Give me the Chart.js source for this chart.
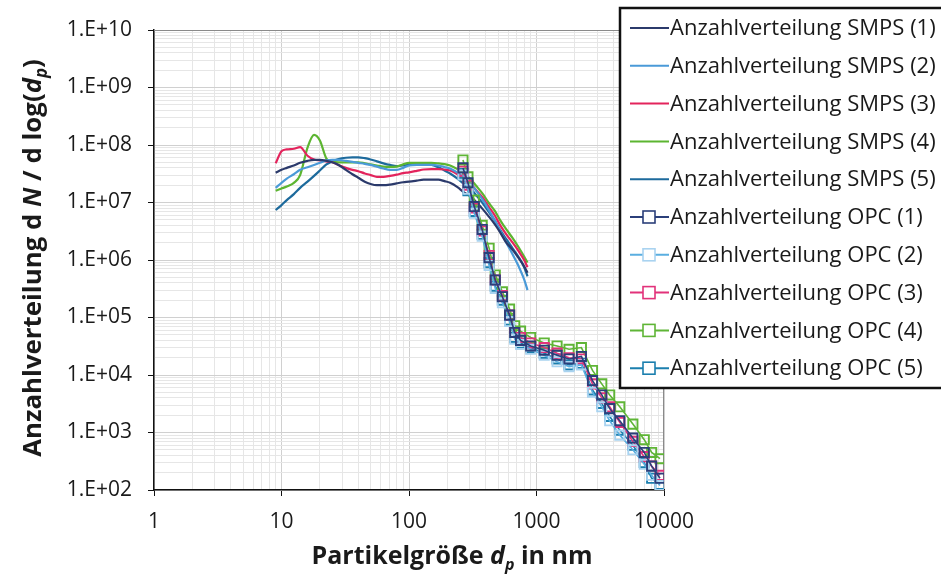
<!DOCTYPE html>
<html>
<head>
<meta charset="utf-8">
<script src="https://cdn.jsdelivr.net/npm/chart.js@4/dist/chart.umd.min.js"></script>
<style>
  html, body { margin: 0; padding: 0; background: #fff; }
  #wrap { position: relative; width: 941px; height: 576px; }
</style>
</head>
<body>
<div id="wrap"><canvas id="psd" width="941" height="576"></canvas></div>
<script>
// particle diameters (nm)
const smpsSize = [9, 10, 11, 12.5, 14, 16, 18, 20, 22.5, 25, 28, 32, 36, 40, 45, 50, 56, 63, 71, 80,
  90, 100, 115, 130, 150, 170, 190, 210, 240, 270, 300, 340, 380, 420, 470, 520, 580, 650, 720, 800, 850];
const opcSize = [265, 290, 325, 375, 425, 475, 540, 615, 675, 750, 900, 1150, 1450, 1800, 2250,
  2750, 3250, 3750, 4500, 5700, 7000, 8000, 9300];

// dN/dlog(dp), SMPS
const smps1 = [3.3e7, 3.7e7, 4.0e7, 4.4e7, 4.9e7, 5.3e7, 5.5e7, 5.5e7, 5.3e7, 5.0e7, 4.5e7, 3.7e7, 3.1e7, 2.7e7, 2.3e7, 2.1e7, 2.0e7, 2.0e7, 2.05e7, 2.15e7,
  2.25e7, 2.3e7, 2.4e7, 2.5e7, 2.5e7, 2.5e7, 2.35e7, 2.2e7, 1.85e7, 1.5e7, 1.3e7, 1.0e7, 7.6e6, 5.8e6, 4.2e6, 3.0e6, 2.0e6, 1.5e6, 1.1e6, 7.8e5, 6.0e5];
const smps2 = [1.8e7, 2.2e7, 2.6e7, 3.1e7, 3.7e7, 4.1e7, 4.5e7, 4.9e7, 5.4e7, 5.5e7, 5.5e7, 5.3e7, 5.1e7, 4.9e7, 4.7e7, 4.5e7, 4.2e7, 3.9e7, 3.7e7, 3.7e7,
  4.0e7, 4.4e7, 4.5e7, 4.5e7, 4.5e7, 4.4e7, 4.15e7, 3.9e7, 3.3e7, 2.7e7, 2.2e7, 1.55e7, 1.1e7, 7.6e6, 4.9e6, 3.2e6, 2.0e6, 1.25e6, 8.0e5, 4.6e5, 3.0e5];
const smps3 = [4.8e7, 7.8e7, 8.4e7, 8.6e7, 9.2e7, 6.5e7, 5.6e7, 5.4e7, 5.2e7, 5.0e7, 4.5e7, 4.0e7, 3.7e7, 3.5e7, 3.2e7, 3.0e7, 2.8e7, 2.8e7, 2.9e7, 3.05e7,
  3.25e7, 3.35e7, 3.55e7, 3.75e7, 3.8e7, 3.8e7, 3.75e7, 3.6e7, 3.1e7, 2.6e7, 2.2e7, 1.6e7, 1.2e7, 8.6e6, 6.0e6, 4.0e6, 2.8e6, 2.0e6, 1.45e6, 1.0e6, 7.5e5];
const smps4 = [1.6e7, 1.75e7, 1.9e7, 2.2e7, 3.0e7, 9.0e7, 1.5e8, 1.2e8, 5.8e7, 5.1e7, 5.0e7, 5.0e7, 5.0e7, 5.0e7, 4.8e7, 4.6e7, 4.4e7, 4.2e7, 4.15e7, 4.2e7,
  4.6e7, 4.9e7, 4.9e7, 4.9e7, 4.9e7, 4.8e7, 4.65e7, 4.4e7, 3.8e7, 3.2e7, 2.6e7, 1.9e7, 1.4e7, 1.0e7, 7.2e6, 4.9e6, 3.4e6, 2.4e6, 1.7e6, 1.15e6, 9.0e5];
const smps5 = [7.4e6, 9.0e6, 1.1e7, 1.4e7, 1.8e7, 2.3e7, 2.9e7, 3.6e7, 4.6e7, 5.2e7, 5.7e7, 6.0e7, 6.1e7, 6.1e7, 5.9e7, 5.6e7, 5.2e7, 4.8e7, 4.5e7, 4.3e7,
  4.4e7, 4.5e7, 4.5e7, 4.5e7, 4.5e7, 4.1e7, 3.6e7, 3.2e7, 2.6e7, 2.1e7, 1.8e7, 1.3e7, 9.6e6, 7.0e6, 4.9e6, 3.3e6, 2.3e6, 1.6e6, 1.15e6, 7.5e5, 5.2e5];

// dN/dlog(dp), OPC
const opc1 = [4.0e7, 2.2e7, 8.5e6, 3.4e6, 1.1e6, 4.5e5, 2.3e5, 1.1e5, 5.5e4, 4.0e4, 3.2e4, 2.7e4, 2.2e4, 1.9e4, 2.1e4,
  8.0e3, 4.5e3, 2.6e3, 1.6e3, 8.0e2, 4.5e2, 2.6e2, 1.6e2];
const opc2 = [3.0e7, 1.7e7, 6.5e6, 2.6e6, 8.0e5, 3.2e5, 1.8e5, 8.5e4, 4.2e4, 3.4e4, 2.8e4, 2.2e4, 1.7e4, 1.4e4, 1.5e4,
  5.0e3, 2.8e3, 1.6e3, 9.0e2, 5.0e2, 2.8e2, 1.8e2, 1.2e2];
const opc3 = [3.5e7, 2.0e7, 8.0e6, 3.2e6, 1.2e6, 4.5e5, 2.4e5, 1.1e5, 5.5e4, 4.5e4, 3.6e4, 3.0e4, 2.4e4, 2.0e4, 1.9e4,
  7.0e3, 4.0e3, 2.8e3, 1.5e3, 7.0e2, 3.8e2, 2.6e2, 1.8e2];
const opc4 = [5.5e7, 2.8e7, 1.1e7, 4.0e6, 1.6e6, 5.5e5, 2.8e5, 1.4e5, 7.2e4, 5.8e4, 4.5e4, 3.6e4, 3.2e4, 2.8e4, 3.0e4,
  1.2e4, 7.0e3, 4.5e3, 2.8e3, 1.4e3, 7.5e2, 4.5e2, 3.5e2];
const opc5 = [3.2e7, 1.6e7, 7.0e6, 2.8e6, 9.0e5, 3.5e5, 2.0e5, 9.0e4, 4.5e4, 3.6e4, 3.0e4, 2.4e4, 1.9e4, 1.5e4, 1.6e4,
  5.5e3, 3.2e3, 1.9e3, 1.1e3, 6.0e2, 3.0e2, 1.6e2, 1.25e2];

// axis ticks
const xMajor = [1, 10, 100, 1000, 10000];
const xTickLabels = ['1', '10', '100', '1000', '10000'];
const yMajor = [1e2, 1e3, 1e4, 1e5, 1e6, 1e7, 1e8, 1e9, 1e10];
const yTickLabels = ['1.E+02', '1.E+03', '1.E+04', '1.E+05', '1.E+06', '1.E+07', '1.E+08', '1.E+09', '1.E+10'];

const FONT = "'Open Sans', 'Noto Sans', sans-serif";

const pts = (xs, ys) => xs.map((x, i) => ({ x: x, y: ys[i] }));

// log grid: decade lines plus 2..9 in between
function logGrid(major) {
  const out = [];
  major.forEach((m, i) => {
    out.push(m);
    if (i < major.length - 1) for (let k = 2; k <= 9; k++) out.push(m * k);
  });
  return out;
}
const isMajor = v => Math.abs(Math.log10(v) - Math.round(Math.log10(v))) < 1e-9;

function smpsSet(label, data, color) {
  return {
    label: label, data: pts(smpsSize, data), borderColor: color, backgroundColor: color,
    borderWidth: 2.2, pointRadius: 0, cubicInterpolationMode: 'monotone', tension: 0.4, order: 2
  };
}
function opcSet(label, data, color, markerColor) {
  return {
    label: label, data: pts(opcSize, data), borderColor: color, backgroundColor: 'rgba(0,0,0,0)',
    borderWidth: 1.6, pointStyle: 'rect', pointRadius: 6.5, pointBorderWidth: 1.9,
    pointBorderColor: markerColor || color, pointBackgroundColor: 'rgba(0,0,0,0)', tension: 0, order: 1
  };
}

const datasets = [
  smpsSet('Anzahlverteilung SMPS (1)', smps1, '#2b3a6b'),
  smpsSet('Anzahlverteilung SMPS (2)', smps2, '#4a9ad8'),
  smpsSet('Anzahlverteilung SMPS (3)', smps3, '#e3245c'),
  smpsSet('Anzahlverteilung SMPS (4)', smps4, '#5cb531'),
  smpsSet('Anzahlverteilung SMPS (5)', smps5, '#1d6a9c'),
  opcSet('Anzahlverteilung OPC (1)', opc1, '#2b3f7a'),
  opcSet('Anzahlverteilung OPC (2)', opc2, '#5aaee0', '#a9d3f0'),
  opcSet('Anzahlverteilung OPC (3)', opc3, '#e2327a'),
  opcSet('Anzahlverteilung OPC (4)', opc4, '#5fb536'),
  opcSet('Anzahlverteilung OPC (5)', opc5, '#1b7fae')
];

// text runs with bold / italic / subscript
function drawRich(ctx, parts, size, cx, cy, angle) {
  ctx.save();
  ctx.translate(cx, cy);
  ctx.rotate(angle);
  ctx.fillStyle = '#1a1a1a';
  ctx.textBaseline = 'middle';
  const fontOf = p => (p.italic ? 'italic ' : '') + 'bold ' + (p.sub ? Math.round(size * 0.65) : size) + 'px ' + FONT;
  let total = 0;
  parts.forEach(p => { ctx.font = fontOf(p); total += ctx.measureText(p.t).width; });
  let x = -total / 2;
  parts.forEach(p => {
    ctx.font = fontOf(p);
    ctx.fillText(p.t, x, p.sub ? size * 0.32 : 0);
    x += ctx.measureText(p.t).width;
  });
  ctx.restore();
}

const titlesPlugin = {
  id: 'axisTitles',
  afterDraw(chart) {
    const ctx = chart.ctx;
    drawRich(ctx, [
      { t: 'Anzahlverteilung d ' }, { t: 'N', italic: true }, { t: ' / d log(' },
      { t: 'd', italic: true }, { t: 'p', italic: true, sub: true }, { t: ')' }
    ], 25.8, 34, 258, -Math.PI / 2);
    drawRich(ctx, [
      { t: 'Partikelgröße ' }, { t: 'd', italic: true }, { t: 'p', italic: true, sub: true }, { t: ' in nm' }
    ], 25, 452, 557, 0);
  }
};

const frameLegendPlugin = {
  id: 'frameLegend',
  beforeDatasetsDraw(chart) {
    const a = chart.chartArea, ctx = chart.ctx;
    ctx.save();
    ctx.strokeStyle = '#8a8a8a';
    ctx.lineWidth = 1;
    ctx.beginPath();
    ctx.moveTo(a.left, a.top + 0.5);
    ctx.lineTo(a.right - 0.5, a.top + 0.5);
    ctx.lineTo(a.right - 0.5, a.bottom);
    ctx.stroke();
    ctx.restore();
  },
  afterDraw(chart) {
    const ctx = chart.ctx;
    const box = { x: 620, y: 8, w: 330, h: 380 };
    ctx.save();
    ctx.fillStyle = '#fff';
    ctx.fillRect(box.x, box.y, box.w, box.h);
    ctx.strokeStyle = '#111';
    ctx.lineWidth = 2.5;
    ctx.strokeRect(box.x, box.y, box.w, box.h);
    ctx.font = '22px ' + FONT;
    ctx.textBaseline = 'middle';
    chart.data.datasets.forEach((ds, i) => {
      const y = 28 + i * 37.8;
      ctx.strokeStyle = ds.borderColor;
      ctx.lineWidth = 2;
      ctx.beginPath();
      ctx.moveTo(630, y);
      ctx.lineTo(669, y);
      ctx.stroke();
      if (ds.pointRadius > 0) {
        ctx.fillStyle = '#fff';
        ctx.fillRect(643, y - 6, 12, 12);
        ctx.strokeStyle = ds.pointBorderColor;
        ctx.lineWidth = 1.6;
        ctx.strokeRect(643, y - 6, 12, 12);
      }
      ctx.fillStyle = '#1a1a1a';
      ctx.fillText(ds.label, 670, y + 1);
    });
    ctx.restore();
  }
};

new Chart(document.getElementById('psd'), {
  type: 'line',
  data: { datasets: datasets },
  options: {
    responsive: false,
    animation: false,
    devicePixelRatio: 1,
    layout: { padding: { left: 0, right: 277, top: 30, bottom: 0 } },
    plugins: { legend: { display: false }, tooltip: { enabled: false } },
    scales: {
      x: {
        type: 'logarithmic', min: 1, max: 10000,
        afterBuildTicks: s => { s.ticks = logGrid(xMajor).map(v => ({ value: v })); },
        afterFit: s => { s.height = 86; },
        ticks: {
          autoSkip: false, maxRotation: 0, padding: 13, color: '#1a1a1a',
          font: { family: FONT, size: 21 },
          callback: v => { const i = xMajor.indexOf(v); return i >= 0 ? xTickLabels[i] : ''; }
        },
        grid: {
          color: c => isMajor(c.tick.value) ? '#d0d0d0' : '#e6e6e6',
          tickColor: c => isMajor(c.tick.value) ? '#111' : 'rgba(0,0,0,0)',
          tickLength: 6, lineWidth: 1
        },
        border: { color: '#111', width: 1.5 }
      },
      y: {
        type: 'logarithmic', min: 1e2, max: 1e10,
        afterBuildTicks: s => { s.ticks = logGrid(yMajor).map(v => ({ value: v })); },
        afterFit: s => { s.width = 154; },
        ticks: {
          autoSkip: false, padding: 16, color: '#1a1a1a',
          font: { family: FONT, size: 21 },
          callback: v => {
            const i = yMajor.findIndex(m => Math.abs(m - v) / m < 1e-9);
            return i >= 0 ? yTickLabels[i] : '';
          }
        },
        grid: {
          color: c => isMajor(c.tick.value) ? '#d0d0d0' : '#e6e6e6',
          tickColor: c => isMajor(c.tick.value) ? '#111' : 'rgba(0,0,0,0)',
          tickLength: 6, lineWidth: 1
        },
        border: { color: '#111', width: 1.5 }
      }
    }
  },
  plugins: [frameLegendPlugin, titlesPlugin]
});
</script>
</body>
</html>
